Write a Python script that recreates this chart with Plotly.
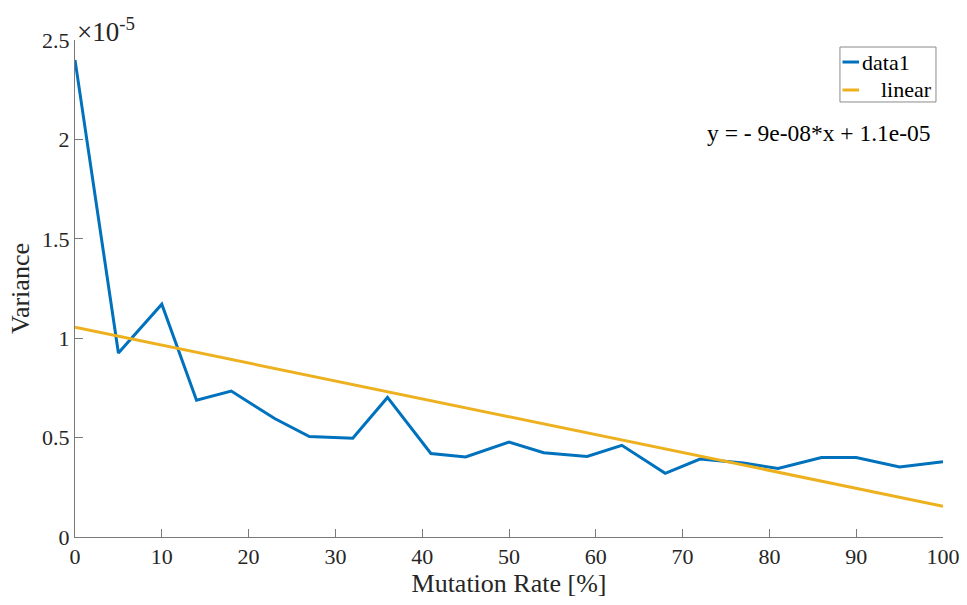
import plotly.graph_objects as go

mutation_rate = [0, 5, 10, 14, 18, 23, 27, 32, 36, 41, 45, 50, 54, 59, 63, 68, 72, 77, 81, 86, 90, 95, 100]
variance_e5 = [2.40, 0.926, 1.171, 0.688, 0.734, 0.596, 0.505, 0.497, 0.702, 0.420, 0.403, 0.477,
               0.424, 0.405, 0.461, 0.320, 0.392, 0.372, 0.345, 0.400, 0.400, 0.352, 0.378]
variance = [v * 1e-5 for v in variance_e5]

fit_slope = -9e-08
fit_intercept = 1.055e-05
fit_x = [0, 100]
fit_y = [fit_intercept + fit_slope * x for x in fit_x]

y_tickvals = [0, 0.5e-5, 1e-5, 1.5e-5, 2e-5, 2.5e-5]
y_ticktext = ["0", "0.5", "1", "1.5", "2", "2.5"]
x_tickvals = [0, 10, 20, 30, 40, 50, 60, 70, 80, 90, 100]

series_names = ["data1", "linear"]
series_colors = ["#0072BD", "#EDB120"]

font_family = "Times New Roman"
axis_color = "#7a7a7a"
text_color = "#262626"

fig = go.Figure()
fig.add_trace(go.Scatter(x=mutation_rate, y=variance, mode="lines", name=series_names[0],
                         line=dict(color=series_colors[0], width=3)))
fig.add_trace(go.Scatter(x=fit_x, y=fit_y, mode="lines", name=series_names[1],
                         line=dict(color=series_colors[1], width=3)))

# MATLAB-style compact legend box (paper coordinates)
shapes = [
    dict(type="rect", xref="paper", yref="paper", x0=0.8813, x1=0.9919, y0=0.8753, y1=0.9859,
         line=dict(color="#8a8a8a", width=1), fillcolor="white", layer="above"),
    dict(type="line", xref="paper", yref="paper", x0=0.8842, x1=0.9033, y0=0.9557, y1=0.9557,
         line=dict(color=series_colors[0], width=3), layer="above"),
    dict(type="line", xref="paper", yref="paper", x0=0.8842, x1=0.9033, y0=0.8994, y1=0.8994,
         line=dict(color=series_colors[1], width=3), layer="above"),
]

fig.update_layout(
    width=967, height=605,
    margin=dict(l=75, r=24, t=40, b=68, autoexpand=False),
    paper_bgcolor="white", plot_bgcolor="white",
    font=dict(family=font_family, color=text_color, size=20),
    showlegend=False,
    shapes=shapes,
    xaxis=dict(range=[0, 100], tickvals=x_tickvals, ticks="inside", ticklen=8,
               tickcolor=axis_color, showline=True, linecolor=axis_color, linewidth=1,
               showgrid=False, zeroline=False, mirror=False, automargin=False,
               tickfont=dict(size=22, family=font_family, color=text_color),
               title=dict(text="Mutation Rate [%]", font=dict(size=26, family=font_family, color=text_color), standoff=2)),
    yaxis=dict(range=[0, 2.5e-5], tickvals=y_tickvals, ticktext=y_ticktext, ticks="inside", ticklen=8,
               tickcolor=axis_color, showline=True, linecolor=axis_color, linewidth=1,
               showgrid=False, zeroline=False, mirror=False, automargin=False,
               tickfont=dict(size=22, family=font_family, color=text_color),
               title=dict(text="Variance", font=dict(size=26, family=font_family, color=text_color), standoff=4)),
    annotations=[
        dict(text="\u00d710<sup>-5</sup>", xref="paper", yref="paper", x=0.0, y=1.0,
             xanchor="left", yanchor="bottom", showarrow=False,
             font=dict(size=27, family=font_family, color=text_color), xshift=0, yshift=-9),
        dict(text="y = - 9e-08*x + 1.1e-05", xref="paper", yref="paper", x=0.9885, y=0.8129,
             xanchor="right", yanchor="middle", showarrow=False,
             font=dict(size=23.5, family=font_family, color="black")),
        dict(text=series_names[0], xref="paper", yref="paper", x=0.9042, y=0.9557,
             xanchor="left", yanchor="middle", showarrow=False,
             font=dict(size=22, family=font_family, color="black")),
        dict(text=series_names[1], xref="paper", yref="paper", x=0.9897, y=0.8994,
             xanchor="right", yanchor="middle", showarrow=False,
             font=dict(size=22, family=font_family, color="black")),
    ],
)

fig.write_html("out.html")
